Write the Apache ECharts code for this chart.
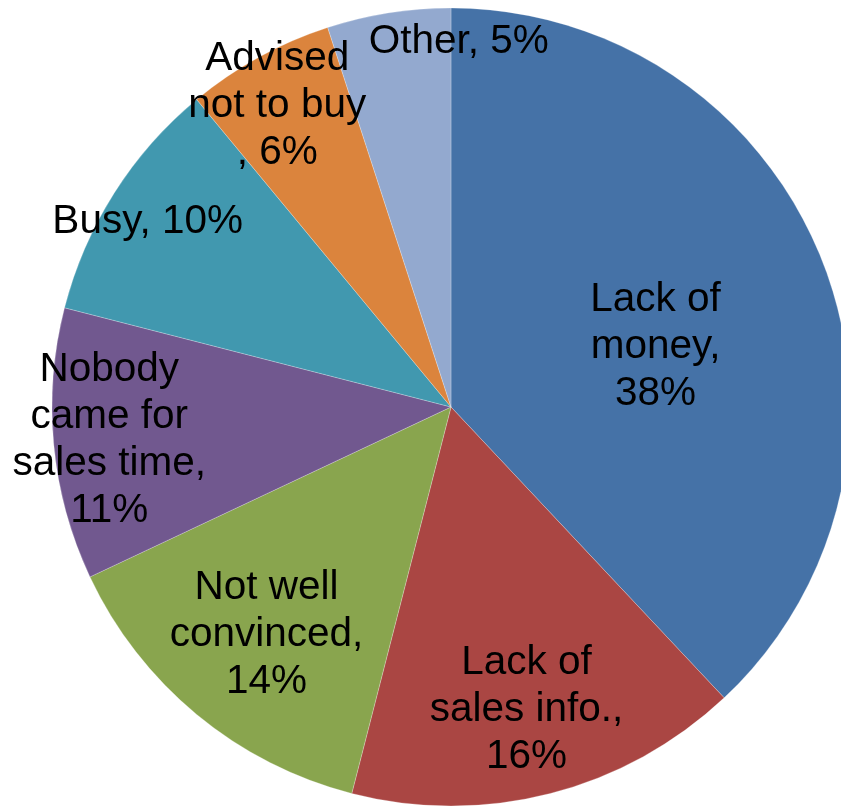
<!DOCTYPE html>
<html>
<head>
<meta charset="utf-8">
<style>
  html, body { margin: 0; padding: 0; background: #fff; }
  #chart { width: 841px; height: 812px; }
</style>
<script src="https://cdn.jsdelivr.net/npm/echarts@6/dist/echarts.min.js"></script>
</head>
<body>
<div id="chart"></div>
<script>
// reasons for not buying, share in %
var categories = ['Lack of money', 'Lack of sales info.', 'Not well convinced', 'Nobody came for sales time', 'Busy', 'Advised not to buy', 'Other'];
var percents = [38, 16, 14, 11, 10, 6, 5];
// label text as wrapped in the picture (value appended)
var labelHeads = ['Lack of\nmoney,\n', 'Lack of\nsales info.,\n', 'Not well\nconvinced,\n', 'Nobody\ncame for\nsales time,\n', 'Busy, ', 'Advised\nnot to buy\n, ', 'Other, '];
var colors = ['#4572A7', '#AA4643', '#89A54E', '#71588F', '#4198AF', '#DB843D', '#93A9CF'];

// label placement: radius as share of pie radius, plus a small nudge
var labelRadius = [0.53, 0.77, 0.73, 0.86, 0.89, 0.87, 0.92];
var labelNudge = [[5, 19], [-2, 1], [4, 0], [5, 1], [1, 8], [-4, 8], [66, 3]];

var cx = 451, cy = 407, R = 399;

var myChart = echarts.init(document.getElementById('chart'));

var data = [];
for (var i = 0; i < categories.length; i++) {
    data.push({
        name: categories[i],
        value: percents[i],
        itemStyle: { color: colors[i] }
    });
}

var option = {
    animation: false,
    series: [
        {
            type: 'pie',
            center: [cx, cy],
            radius: [0, R],
            startAngle: 90,
            clockwise: true,
            avoidLabelOverlap: false,
            data: data,
            itemStyle: {
                borderColor: 'rgba(255,255,255,0.6)',
                borderWidth: 0.4
            },
            label: {
                show: true,
                position: 'inside',
                color: '#000',
                fontFamily: '"Liberation Sans", Arial, sans-serif',
                fontSize: 40.5,
                lineHeight: 47,
                formatter: function (p) {
                    return labelHeads[p.dataIndex] + p.value + '%';
                }
            },
            labelLine: { show: false },
            emphasis: { disabled: true },
            labelLayout: function (p) {
                var r = p.labelRect;
                var lx = r.x + r.width / 2;
                var ly = r.y + r.height / 2;
                var k = labelRadius[p.dataIndex] / 0.5;
                return {
                    dx: (lx - cx) * (k - 1) + labelNudge[p.dataIndex][0],
                    dy: (ly - cy) * (k - 1) + labelNudge[p.dataIndex][1]
                };
            }
        }
    ]
};
myChart.setOption(option);
</script>
</body>
</html>
